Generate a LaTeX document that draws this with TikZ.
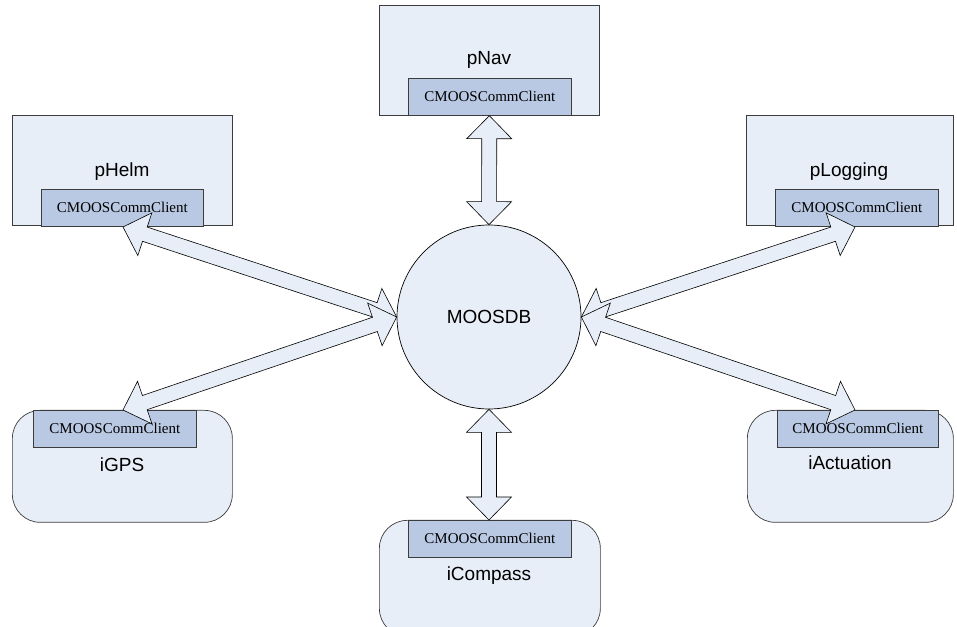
\documentclass[tikz,border=0pt]{standalone}
\usepackage{fontspec}
\setmainfont{Liberation Serif}
\newfontfamily\arialf{Liberation Sans}
\usetikzlibrary{calc}
\definecolor{boxfill}{RGB}{232,238,247}
\definecolor{clientfill}{RGB}{185,201,227}
\definecolor{boxline}{RGB}{60,60,60}
\tikzset{
  outerbox/.style={draw=boxline, fill=boxfill, line width=0.7pt, inner sep=0pt, anchor=north west},
  roundbox/.style={outerbox, rounded corners=28pt},
  client/.style={draw=boxline, fill=clientfill, line width=0.7pt, inner sep=0pt, anchor=north west,
    minimum height=37pt, font=\fontsize{15}{17}\selectfont},
  lbl/.style={font=\arialf\fontsize{19}{22}\selectfont, inner sep=0pt},
  dbl/.style={draw=black, fill=boxfill, line width=0.6pt, line join=miter},
}
\newcommand\moosarrow[2]{%
  \draw[dbl] (#1)
    -- ($(#1)!23pt!(#2)!22.5pt!90:(#2)$)
    -- ($(#1)!23pt!(#2)!7.5pt!90:(#2)$)
    -- ($(#2)!23pt!(#1)!7.5pt!-90:(#1)$)
    -- ($(#2)!23pt!(#1)!22.5pt!-90:(#1)$)
    -- (#2)
    -- ($(#2)!23pt!(#1)!22.5pt!90:(#1)$)
    -- ($(#2)!23pt!(#1)!7.5pt!90:(#1)$)
    -- ($(#1)!23pt!(#2)!7.5pt!-90:(#2)$)
    -- ($(#1)!23pt!(#2)!22.5pt!-90:(#2)$)
    -- cycle;}
\begin{document}
\begin{tikzpicture}[x=1pt,y=1pt]
\useasboundingbox (0,0) rectangle (957,626);
% pNav
\node[outerbox, minimum width=220pt, minimum height=110pt] (pnav) at (379,621) {};
\node[lbl] (pnavl) at (489,566) {pNav};
\node[client, minimum width=163pt] (pnavc) at (408,548) {CMOOSCommClient};
% pHelm
\node[outerbox, minimum width=220pt, minimum height=110pt] (phelm) at (12,511) {};
\node[lbl] (phelml) at (122,454) {pHelm};
\node[client, minimum width=162pt] (phelmc) at (41,437) {CMOOSCommClient};
% pLogging
\node[outerbox, minimum width=207pt, minimum height=110pt] (plog) at (746,511) {};
\node[lbl] (plogl) at (849,454) {pLogging};
\node[client, minimum width=163pt] (plogc) at (775,437) {CMOOSCommClient};
% iGPS
\node[roundbox, minimum width=220pt, minimum height=112pt] (igps) at (12,216) {};
\node[client, minimum width=163pt] (igpsc) at (33,216) {CMOOSCommClient};
\node[lbl] (igpsl) at (122,161) {iGPS};
% iCompass (runs off the bottom edge)
\node[roundbox, minimum width=221pt, minimum height=116pt] (icomp) at (379,106) {};
\node[client, minimum width=163pt] (icompc) at (408,106) {CMOOSCommClient};
\node[lbl] (icompl) at (489,50) {iCompass};
% iActuation
\node[roundbox, minimum width=206pt, minimum height=112pt] (iact) at (747,216) {};
\node[client, minimum width=161pt] (iactc) at (777,216) {CMOOSCommClient};
\node[lbl] (iactl) at (850,163) {iActuation};
% MOOSDB
\node[circle, draw=black, fill=boxfill, line width=0.7pt, minimum size=184pt, inner sep=0pt,
      font=\arialf\fontsize{19}{22}\selectfont] (db) at (489,309) {MOOSDB};
% arrow ends
\coordinate (ehelm) at (123,399);
\coordinate (egps) at (123,216);
\coordinate (elog) at (855,399);
\coordinate (eact) at (855,216);
\coordinate (ecomp) at (489,106);
\moosarrow{pnav.south}{db.north}
\moosarrow{db.south}{ecomp}
\moosarrow{ehelm}{db.west}
\moosarrow{egps}{db.west}
\moosarrow{elog}{db.east}
\moosarrow{eact}{db.east}
\end{tikzpicture}
\end{document}
